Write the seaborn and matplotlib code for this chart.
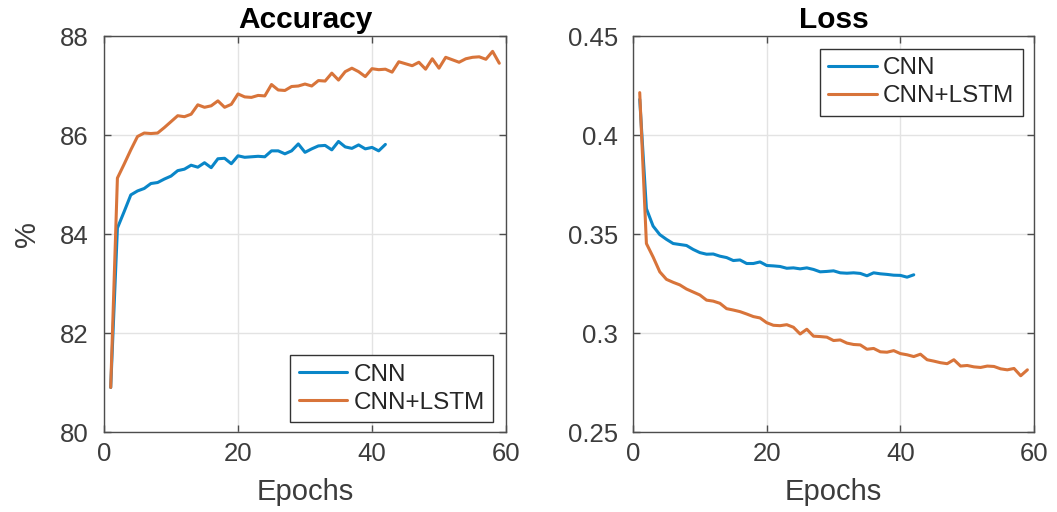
import numpy as np
import pandas as pd
import matplotlib
matplotlib.use("Agg")
import matplotlib.pyplot as plt
import seaborn as sns

# Training curves per epoch
cnn_acc = [80.90, 84.12, 84.45, 84.79, 84.87, 84.92, 85.02, 85.04, 85.11, 85.17,
           85.28, 85.31, 85.39, 85.35, 85.44, 85.34, 85.52, 85.53, 85.42, 85.58,
           85.55, 85.56, 85.57, 85.56, 85.68, 85.68, 85.62, 85.68, 85.82, 85.65,
           85.72, 85.78, 85.79, 85.70, 85.87, 85.76, 85.73, 85.80, 85.72, 85.75,
           85.68, 85.81]
lstm_acc = [80.90, 85.13, 85.41, 85.70, 85.97, 86.04, 86.03, 86.04, 86.15, 86.27,
            86.39, 86.37, 86.42, 86.61, 86.56, 86.59, 86.69, 86.56, 86.62, 86.83,
            86.77, 86.76, 86.80, 86.79, 87.02, 86.91, 86.90, 86.98, 86.99, 87.03,
            86.99, 87.10, 87.09, 87.25, 87.11, 87.28, 87.35, 87.28, 87.18, 87.34,
            87.32, 87.33, 87.27, 87.48, 87.44, 87.40, 87.47, 87.33, 87.54, 87.35,
            87.57, 87.52, 87.47, 87.54, 87.57, 87.58, 87.53, 87.69, 87.45]
cnn_loss = [0.4180, 0.3628, 0.3540, 0.3497, 0.3473, 0.3452, 0.3447, 0.3442, 0.3422, 0.3406,
            0.3398, 0.3399, 0.3388, 0.3381, 0.3366, 0.3369, 0.3351, 0.3351, 0.3359, 0.3341,
            0.3339, 0.3336, 0.3327, 0.3329, 0.3324, 0.3329, 0.3321, 0.3309, 0.3311, 0.3314,
            0.3304, 0.3302, 0.3304, 0.3301, 0.3289, 0.3304, 0.3299, 0.3296, 0.3292, 0.3291,
            0.3282, 0.3294]
lstm_loss = [0.4214, 0.3452, 0.3384, 0.3309, 0.3271, 0.3256, 0.3243, 0.3222, 0.3207, 0.3192,
             0.3166, 0.3161, 0.3150, 0.3123, 0.3116, 0.3108, 0.3096, 0.3083, 0.3076, 0.3052,
             0.3039, 0.3037, 0.3042, 0.3029, 0.2995, 0.3019, 0.2984, 0.2982, 0.2979, 0.2962,
             0.2965, 0.2949, 0.2942, 0.2940, 0.2918, 0.2922, 0.2905, 0.2903, 0.2911, 0.2896,
             0.2890, 0.2881, 0.2893, 0.2865, 0.2858, 0.2850, 0.2845, 0.2865, 0.2833, 0.2836,
             0.2829, 0.2826, 0.2833, 0.2831, 0.2819, 0.2814, 0.2821, 0.2784, 0.2814]

model_names = ["CNN", "CNN+LSTM"]
colors = {"CNN": "#0a86c8", "CNN+LSTM": "#d8743a"}


def long_frame(cnn, lstm):
    parts = []
    for name, vals in zip(model_names, [cnn, lstm]):
        parts.append(pd.DataFrame({"epoch": np.arange(1, len(vals) + 1),
                                   "value": vals, "model": name}))
    return pd.concat(parts, ignore_index=True)


acc_df = long_frame(cnn_acc, lstm_acc)
loss_df = long_frame(cnn_loss, lstm_loss)

sns.set_theme(style="whitegrid")
plt.rcParams["font.family"] = ["Liberation Sans", "DejaVu Sans"]
text_color = "#3c3c3c"
axis_color = "#4d4d4d"
tick_size = 18.5
label_size = 21
title_size = 21.5

fig = plt.figure(figsize=(10.57, 5.12), dpi=100)
ax1 = fig.add_axes([0.0984, 0.15625, 0.3803, 0.7734])
ax2 = fig.add_axes([0.5989, 0.15625, 0.3794, 0.7734])

for ax, df in [(ax1, acc_df), (ax2, loss_df)]:
    sns.lineplot(data=df, x="epoch", y="value", hue="model", palette=colors,
                 linewidth=2.2, ax=ax)

ax1.set_xlim(0, 60)
ax1.set_ylim(80, 88)
ax1.set_yticks([80, 82, 84, 86, 88])
ax1.set_title("Accuracy", fontsize=title_size, fontweight="bold", color="black", pad=6)
ax1.set_ylabel("%", fontsize=label_size, color=text_color, labelpad=14)

ax2.set_xlim(0, 60)
ax2.set_ylim(0.25, 0.45)
ax2.set_yticks([0.25, 0.3, 0.35, 0.4, 0.45])
ax2.set_yticklabels(["0.25", "0.3", "0.35", "0.4", "0.45"])
ax2.set_title("Loss", fontsize=title_size, fontweight="bold", color="black", pad=6)
ax2.set_ylabel("")

for ax in (ax1, ax2):
    ax.set_xticks([0, 20, 40, 60])
    ax.set_xlabel("Epochs", fontsize=label_size, color=text_color, labelpad=9)
    ax.set_facecolor("white")
    ax.grid(True, color="#e3e3e3", linewidth=1.0)
    for sp in ax.spines.values():
        sp.set_visible(True)
        sp.set_color(axis_color)
        sp.set_linewidth(1.0)
    ax.tick_params(axis="both", direction="in", length=5, width=1.0,
                   colors=axis_color, labelcolor=text_color, labelsize=tick_size,
                   top=True, right=True, left=True, bottom=True)
    ax.tick_params(axis="x", pad=7)
    ax.tick_params(axis="y", pad=11)

leg_kw = dict(fontsize=17.5, frameon=True, fancybox=False, framealpha=1,
              edgecolor="#333333", handlelength=2.0, handletextpad=0.25,
              borderpad=0.35, labelspacing=0.25, borderaxespad=0)
leg1 = ax1.legend(loc="lower right", bbox_to_anchor=(0.968, 0.025), **leg_kw)
leg2 = ax2.legend(loc="upper right", bbox_to_anchor=(0.972, 0.968), **leg_kw)
for leg in (leg1, leg2):
    leg.get_frame().set_linewidth(1.0)
    for t in leg.get_texts():
        t.set_color("#262626")
    for line in leg.get_lines():
        line.set_linewidth(2.2)

fig.savefig("out.png", dpi=100, facecolor="white")
